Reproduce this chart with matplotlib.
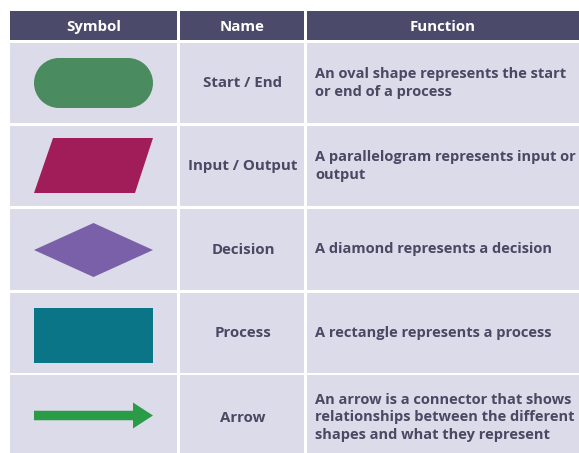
import matplotlib
matplotlib.use("Agg")
import matplotlib.pyplot as plt
from matplotlib.patches import Rectangle, Polygon, FancyArrow, Circle

# === Table content ===
headers = ["Symbol", "Name", "Function"]
names = ["Start / End", "Input / Output", "Decision", "Process", "Arrow"]
functions = [
    "An oval shape represents the start\nor end of a process",
    "A parallelogram represents input or\noutput",
    "A diamond represents a decision",
    "A rectangle represents a process",
    "An arrow is a connector that shows\nrelationships between the different\nshapes and what they represent",
]
shape_colors = ["#4a8b60", "#a11d5a", "#7a60a9", "#097586", "#2a9c48"]

HEADER_BG = "#4b4a6b"
CELL_BG = "#dcdbe9"
TEXT_COLOR = "#4a4862"
FONT = ["Open Sans", "DejaVu Sans"]

# layout in pixel units
col_edges = [(10, 177), (180, 304), (307, 590)]
header_rows = (11, 40)
row_edges = [(43, 123), (126, 206), (209, 290), (293, 373), (375, 460)]

fig = plt.figure(figsize=(5.79, 4.53), dpi=100)
fig.patch.set_facecolor("white")
ax = fig.add_axes([0, 0, 1, 1])
ax.set_xlim(0, 579)
ax.set_ylim(453, 0)
ax.axis("off")

# header
for (x0, x1), label in zip(col_edges, headers):
    y0, y1 = header_rows
    ax.add_patch(Rectangle((x0, y0), x1 - x0, y1 - y0, color=HEADER_BG, lw=0))
    cx = (x0 + min(x1, 579)) / 2
    ax.text(cx, (y0 + y1) / 2 + 1.5, label, color="white", fontsize=10.8,
            fontweight="bold", family=FONT, ha="center", va="center")

# body cells
for (y0, y1), name, func in zip(row_edges, names, functions):
    for x0, x1 in col_edges:
        ax.add_patch(Rectangle((x0, y0), x1 - x0, y1 - y0, color=CELL_BG, lw=0))
    cy = (y0 + y1) / 2
    ax.text((col_edges[1][0] + col_edges[1][1]) / 2 + 1, cy, name, color=TEXT_COLOR,
            fontsize=10.8, fontweight="bold", family=FONT, ha="center", va="center")
    ax.text(col_edges[2][0] + 8, cy, func, color=TEXT_COLOR, fontsize=10.5,
            fontweight="bold", family=FONT, ha="left", va="center", linespacing=1.28)

# symbols
sx0, sx1 = 34, 153
cys = [(y0 + y1) / 2 for y0, y1 in row_edges]

# oval (stadium)
h = 50
ax.add_patch(Rectangle((sx0 + h / 2, cys[0] - h / 2), sx1 - sx0 - h, h, color=shape_colors[0], lw=0))
ax.add_patch(Circle((sx0 + h / 2, cys[0]), h / 2, color=shape_colors[0], lw=0))
ax.add_patch(Circle((sx1 - h / 2, cys[0]), h / 2, color=shape_colors[0], lw=0))

# parallelogram
ax.add_patch(Polygon([(53, 138), (153, 138), (135, 193), (34, 193)], closed=True,
                     color=shape_colors[1], lw=0))

# diamond
ax.add_patch(Polygon([(sx0, 250), (93.5, 223), (sx1, 250), (93.5, 277)], closed=True,
                     color=shape_colors[2], lw=0))

# rectangle
ax.add_patch(Rectangle((sx0, 308), sx1 - sx0, 55, color=shape_colors[3], lw=0))

# arrow
ax.add_patch(FancyArrow(sx0, 415.5, sx1 - sx0, 0, width=9.5, head_width=26,
                        head_length=20, length_includes_head=True,
                        color=shape_colors[4], lw=0))

fig.savefig("out.png", dpi=100, facecolor="white")
